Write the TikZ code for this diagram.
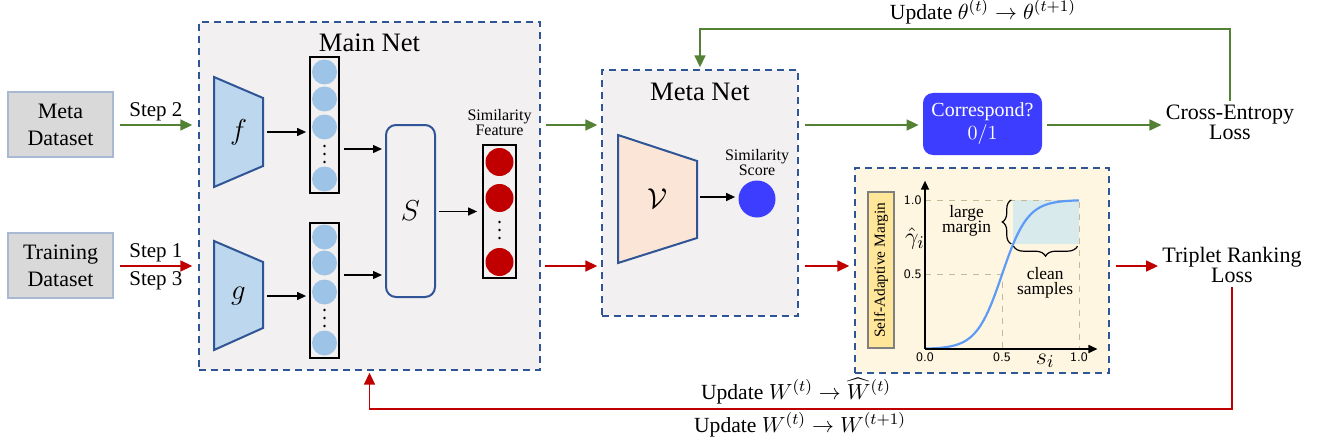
\documentclass[tikz,border=0pt]{standalone}
\usepackage{amsmath}
\usepackage{fontspec}
\setmainfont{Liberation Serif}
\usetikzlibrary{positioning, arrows.meta, calc, decorations.pathreplacing}
\definecolor{flowgreen}{HTML}{548235}
\definecolor{flowred}{HTML}{C00000}
\definecolor{netblue}{HTML}{2F5597}
\definecolor{netgray}{HTML}{F2F0F0}
\definecolor{datagray}{HTML}{D9D9D9}
\definecolor{dataedge}{HTML}{A9B8D3}
\definecolor{encblue}{HTML}{BDD7EE}
\definecolor{encpeach}{HTML}{FBE5D6}
\definecolor{dotblue}{HTML}{9DC3E6}
\definecolor{dotred}{HTML}{C00000}
\definecolor{brightblue}{HTML}{3D3DFF}
\definecolor{cream}{HTML}{FFF6E1}
\definecolor{labelgold}{HTML}{FFE699}
\definecolor{curveblue}{HTML}{5E9BF7}
\definecolor{zoneblue}{HTML}{D8EAEC}
\definecolor{gridtan}{HTML}{C4BA98}
\tikzset{
  % --- containers ---
  netbox/.style={draw=netblue, fill=netgray, line width=0.7pt,
    dash pattern=on 3.5pt off 2.5pt, inner sep=0pt},
  chartbox/.style={netbox, fill=cream},
  databox/.style={draw=dataedge, fill=datagray, line width=0.6pt, align=center,
    minimum width=52.5pt, minimum height=32.5pt, inner sep=1pt,
    font=\fontsize{11}{13.5}\selectfont},
  nettitle/.style={font=\fontsize{13.3}{15}\selectfont, inner sep=0pt},
  % --- encoders and feature columns ---
  encoder/.style={draw=netblue, fill=encblue, line width=1pt},
  metaencoder/.style={encoder, fill=encpeach},
  enclabel/.style={font=\fontsize{14}{16}\selectfont, inner sep=0pt},
  featcol/.style={draw=black, line width=0.9pt, minimum width=14.5pt, inner sep=0pt},
  bluedot/.style={circle, fill=dotblue, minimum size=12.5pt, inner sep=0pt},
  reddot/.style={circle, fill=dotred, minimum size=14pt, inner sep=0pt},
  simbox/.style={draw=netblue, line width=1pt, rounded corners=5pt,
    minimum width=24.5pt, minimum height=86pt},
  scoredot/.style={circle, fill=brightblue, minimum size=18.5pt, inner sep=0pt},
  decidebox/.style={fill=brightblue, rounded corners=5pt, text=white, align=center,
    minimum width=59.5pt, minimum height=31pt, font=\fontsize{10}{11.5}\selectfont},
  losslabel/.style={align=center, font=\fontsize{11}{10}\selectfont, inner sep=2pt},
  smalltext/.style={align=center, font=\fontsize{8}{7.5}\selectfont, inner sep=0pt},
  steptext/.style={font=\fontsize{10.5}{12}\selectfont, inner sep=0pt},
  updtext/.style={font=\fontsize{10.8}{13}\selectfont, inner sep=0pt},
  % --- flows ---
  flow/.style={-{Triangle[length=4.5pt, width=4pt]}, line width=0.65pt},
  greenflow/.style={-{Triangle[length=6pt, width=5.5pt]}, draw=flowgreen,
    line width=0.85pt},
  redflow/.style={greenflow, draw=flowred},
  % --- chart ---
  chartaxis/.style={-{Triangle[length=4.5pt, width=4pt]}, line width=0.8pt},
  chartguide/.style={draw=gridtan, dashed, line width=0.5pt},
  ticktext/.style={font=\sffamily\fontsize{6.5}{7}\selectfont, inner sep=1.5pt},
  chartnote/.style={align=center, font=\fontsize{8.7}{7.8}\selectfont, inner sep=0pt},
  marginlabel/.style={draw=gray, fill=labelgold, line width=0.8pt,
    minimum width=78pt, minimum height=13pt, inner sep=0pt,
    font=\fontsize{7.7}{9}\selectfont},
  bracemark/.style={decorate, line width=0.6pt},
}

\begin{document}
\begin{tikzpicture}[x=0.5pt, y=-0.5pt]
  \useasboundingbox (0,0) rectangle (1321,444);
  % rows
  \coordinate (greenrow) at (0,125);
  \coordinate (redrow) at (0,266);
  \coordinate (thetarow) at (0,29);
  \coordinate (wrow) at (0,409);
  % containers
  \node[netbox, minimum width=170.5pt, minimum height=174pt] (mainnet) at (369.5,196) {};
  \node[netbox, minimum width=98pt, minimum height=123pt] (metanet) at (700,193) {};
  \node[chartbox, minimum width=127pt, minimum height=102.5pt] (margin) at (982,270.5) {};
  \node[nettitle] (maintitle) at (369.5,43) {Main Net};
  \node[nettitle] (metatitle) at (700,92) {Meta Net};
  % inputs
  \node[databox] (metadata) at (60.5,124.5) {Meta\\Dataset};
  \node[databox] (traindata) at (60.5,265.5) {Training\\Dataset};
  \draw[greenflow, shorten <=3pt, shorten >=3pt] (metadata.east |- greenrow) -- (mainnet.west |- greenrow)
    node[midway, above=1.5pt, steptext] {Step 2};
  \draw[redflow, shorten <=3pt, shorten >=3pt] (traindata.east |- redrow) -- (mainnet.west |- redrow)
    node[midway, above=1.5pt, steptext] {Step 1}
    node[midway, below=2.5pt, steptext] {Step 3};
  % main net: encoders
  \draw[encoder] (214,77) -- (263,98) -- (263,166) -- (214,187) -- cycle;
  \node[enclabel] (fnet) at (238.5,132) {$f$};
  \coordinate (fout) at (263,132);
  \draw[encoder] (214,241) -- (263,262) -- (263,328) -- (214,350) -- cycle;
  \node[enclabel] (gnet) at (238.5,296) {$g$};
  \coordinate (gout) at (263,296);
  % main net: feature columns
  \node[featcol, minimum height=68pt] (col1) at (324.5,125) {};
  \node[featcol, minimum height=67.5pt] (col2) at (324.5,290.5) {};
  \foreach \y [count=\k] in {72,99,127,179} \node[bluedot] (fdot\k) at (324.5,\y) {};
  \foreach \y [count=\k] in {237,263,292,343} \node[bluedot] (gdot\k) at (324.5,\y) {};
  \foreach \d in {-1,0,1} {
    \fill (324.5,154+8*\d) circle (0.7pt);
    \fill (324.5,318+8*\d) circle (0.7pt);
    \fill (499.5,230+8*\d) circle (0.7pt);
  }
  \draw[flow, shorten <=2pt, shorten >=1.5pt] (fout) -- (fout -| col1.west);
  \draw[flow, shorten <=2pt, shorten >=1.5pt] (gout) -- (gout -| col2.west);
  % main net: similarity
  \node[simbox] (simnet) at (410.5,211) {};
  \node[enclabel] (slabel) at (simnet.center) {$S$};
  \draw[flow, shorten <=2pt, shorten >=1.5pt] ([yshift=-12pt]col1.east) -- ([yshift=-12pt]col1.east -| simnet.west);
  \draw[flow, shorten <=2pt, shorten >=1.5pt] ([yshift=7.75pt]col2.east) -- ([yshift=7.75pt]col2.east -| simnet.west);
  \node[featcol, minimum width=16.5pt, minimum height=66.5pt] (col3) at (499.5,211.5) {};
  \foreach \y [count=\k] in {162,198,262} \node[reddot] (sdot\k) at (499.5,\y) {};
  \node[smalltext] (featlabel) at (499.5,123) {Similarity\\Feature};
  \draw[flow, shorten <=1.5pt, shorten >=2.5pt] (simnet.east |- col3) -- (col3.west);
  % main net -> meta net
  \draw[greenflow, shorten <=2.5pt, shorten >=2pt] (mainnet.east |- greenrow) -- (metanet.west |- greenrow);
  \draw[redflow, shorten <=2pt, shorten >=2pt] (mainnet.east |- redrow) -- (metanet.west |- redrow);
  % meta net
  \draw[metaencoder] (618,135) -- (697,161) -- (697,238) -- (618,263) -- cycle;
  \node[enclabel] (vnet) at (657,199) {$\mathcal{V}$};
  \coordinate (vout) at (697,197);
  \node[scoredot] (score) at (757,199) {};
  \node[smalltext] (scorelabel) at (757,163) {Similarity\\Score};
  \draw[flow, shorten <=1.5pt, shorten >=1.5pt] (vout) -- (vout -| score.west);
  % losses
  \node[decidebox] (decide) at (982.5,124) {Correspond?\\$0/1$};
  \node[losslabel] (celoss) at (1230,122.5) {Cross-Entropy\\Loss};
  \node[losslabel] (trloss) at (1232,264.5) {Triplet Ranking\\Loss};
  \draw[greenflow, shorten <=3pt, shorten >=2pt] (metanet.east |- greenrow) -- (decide.west |- greenrow);
  \draw[greenflow, shorten <=2.5pt] (decide.east |- greenrow) -- (celoss.west |- greenrow);
  \draw[redflow, shorten <=3pt, shorten >=2.5pt] (metanet.east |- redrow) -- (margin.west |- redrow);
  \draw[redflow, shorten <=3pt] (margin.east |- redrow) -- (trloss.west |- redrow);
  % updates
  \draw[greenflow, shorten >=1pt] (celoss.north) |- (thetarow -| metanet.north) -- (metanet.north);
  \draw[redflow, shorten >=1pt] (trloss.south) |- (wrow -| mainnet.south) -- (mainnet.south);
  \node[updtext] (thetaupd) at (983,12) {Update $\theta^{(t)} \rightarrow \theta^{(t+1)}$};
  \node[updtext] (wupdmeta) at (796,391) {Update $W^{(t)} \rightarrow \widehat{W}^{(t)}$};
  \node[updtext] (wupdmain) at (800,425) {Update $W^{(t)} \rightarrow W^{(t+1)}$};
  % self-adaptive margin chart
  \node[marginlabel, rotate=90] (sam) at (881,270) {Self-Adaptive Margin};
  \begin{scope}[shift={(925,349)}, x=77pt, y=74.5pt]
    \fill[zoneblue] (0.57,0.705) rectangle (1,1);
    \draw[chartguide] (0,1) -- (1,1) -- (1,0);
    \draw[chartguide] (0,0.5) -- (0.5,0.5) -- (0.5,0);
    \draw[curveblue, line width=1.1pt] plot[domain=0:1, samples=80, smooth]
      (\x, {1/(1+exp(-12*(\x-0.5)))});
    \draw[chartaxis] (0,0) -- (1.12,0);
    \draw[chartaxis] (0,0) -- (0,1.13);
    \node[ticktext, anchor=east] at (0,1) {1.0};
    \node[ticktext, anchor=east] at (0,0.5) {0.5};
    \node[ticktext, anchor=north] at (0,0) {0.0};
    \node[ticktext, anchor=north] at (0.5,0) {0.5};
    \node[ticktext, anchor=north] at (1,0) {1.0};
    \node[enclabel, font=\fontsize{13}{15}\selectfont] (gammalabel) at (-0.065,0.74) {$\hat{\gamma}_i$};
    \node[enclabel, font=\fontsize{13}{15}\selectfont] (slabel2) at (0.78,-0.08) {$s_i$};
    \draw[bracemark, decoration={brace, amplitude=4.5pt}] (0.56,0.705) -- (0.56,1);
    \draw[bracemark, decoration={brace, amplitude=5pt}] (0.99,0.69) -- (0.575,0.69);
    \node[chartnote] (largenote) at (0.27,0.86) {large\\margin};
    \node[chartnote] (cleannote) at (0.78,0.445) {clean\\samples};
  \end{scope}
\end{tikzpicture}
\end{document}
